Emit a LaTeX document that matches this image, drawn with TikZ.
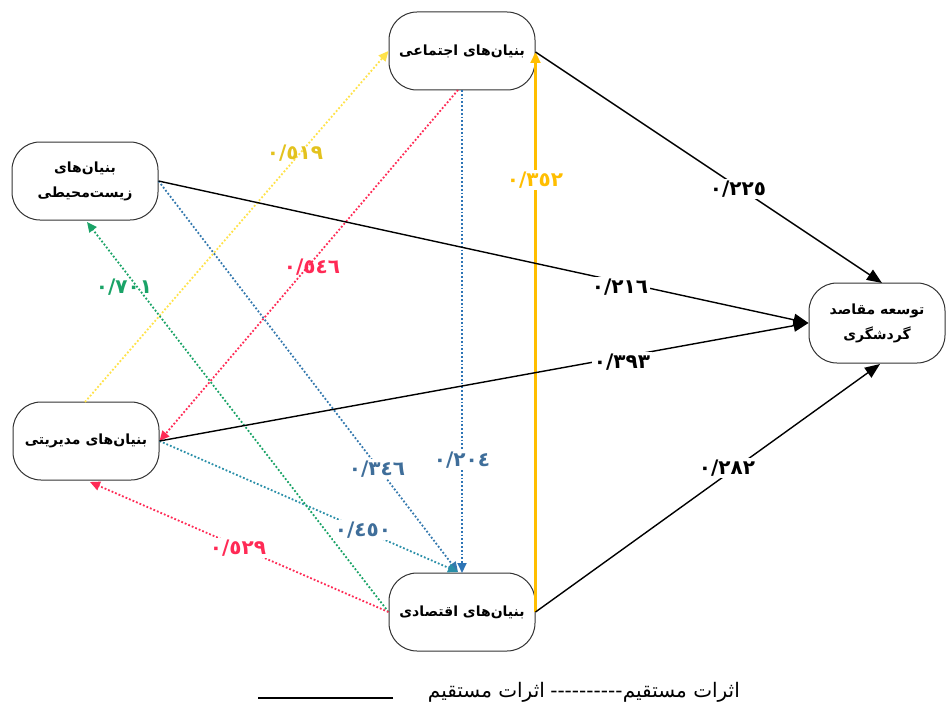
\documentclass[tikz,border=0pt]{standalone}
\usepackage{fontspec}
\usetikzlibrary{arrows.meta}
\TeXXeTstate=1
\newfontfamily\arabicfont[Script=Arabic]{DejaVu Sans}
\newcommand\fatxt[1]{\beginR #1\endR}
\definecolor{cyell}{HTML}{FFE24A}
\definecolor{cyelltxt}{HTML}{E3C21E}
\definecolor{corange}{HTML}{FFBE00}
\definecolor{cred}{HTML}{FF2A55}
\definecolor{cblue}{HTML}{2E75B6}
\definecolor{cblueb}{HTML}{3579AE}
\definecolor{cteal}{HTML}{2A8FA8}
\definecolor{cgreen}{HTML}{1AA367}
\definecolor{cbluetxt}{HTML}{3F6E9A}
\tikzset{
  box/.style={draw=black!80, line width=1pt, rectangle, rounded corners=28pt,
    minimum width=146pt, minimum height=78pt, align=center, fill=white,
    font=\arabicfont\fontsize{14}{25}\selectfont\bfseries},
  solidarr/.style={line width=1.4pt, -{Triangle[length=15pt,width=12pt]}},
  dotarr/.style={line width=1.8pt, dash pattern=on 1.8pt off 2pt, -{Triangle[length=10pt,width=9pt]}},
  lbl/.style={font=\arabicfont\fontsize{20}{22}\selectfont\bfseries, inner sep=1.5pt},
  lblw/.style={lbl, fill=white},
  legtxt/.style={font=\arabicfont\fontsize{20}{22}\selectfont, inner sep=0pt},
}
\begin{document}
\begin{tikzpicture}[x=1pt,y=-1pt]
\useasboundingbox (0,0) rectangle (949,706);
% nodes
\node[box] (soc) at (462,51) {\fatxt{بنیان^^^^200cهای اجتماعی}};
\node[box] (env) at (85,181) {\fatxt{بنیان^^^^200cهای}\\\fatxt{زیست^^^^200cمحیطی}};
\node[box] (man) at (86,441) {\fatxt{بنیان^^^^200cهای مدیریتی}};
\node[box] (eco) at (462,612) {\fatxt{بنیان^^^^200cهای اقتصادی}};
\node[box, minimum width=136pt, minimum height=80pt] (tour) at (877,323) {\fatxt{توسعه مقاصد}\\\fatxt{گردشگری}};
% anchor coordinates
\coordinate (socE) at (535.5,52);
\coordinate (socW) at (soc.west);
\coordinate (socS) at (462,90);
\coordinate (socSr) at (458,90);
\coordinate (envE) at (env.east);
\coordinate (envS) at (87,222);
\coordinate (manE) at (man.east);
\coordinate (manN) at (85,402);
\coordinate (manS) at (90,482);
\coordinate (ecoE) at (535.5,612);
\coordinate (ecoW) at (eco.west);
\coordinate (ecoN) at (462,573);
\coordinate (ecoNl) at (458,572);
\coordinate (tourN) at (882,283);
\coordinate (tourW) at (tour.west);
\coordinate (tourS) at (880,364);
% dotted arrows
\draw[dotarr, cyell] (manN) -- (socW);
\draw[dotarr, cred] (socSr) -- (manE);
\draw[dotarr, cblueb] (envE) -- (ecoNl);
\draw[dotarr, cteal] (manE) -- (ecoNl);
\draw[dotarr, cgreen] (ecoW) -- (envS);
\draw[dotarr, cred] (ecoW) -- (manS);
\draw[dotarr, cblue] (socS) -- (ecoN);
% solid arrows
\draw[draw=corange, fill=corange, line width=2.2pt, -{Triangle[length=11pt,width=10pt]}] (ecoE) -- (socE);
\draw[solidarr] (socE) -- (tourN);
\draw[solidarr] (envE) -- (tourW);
\draw[solidarr] (manE) -- (tourW);
\draw[solidarr] (ecoE) -- (tourS);
% labels
\node[lbl, text=cyelltxt] (l519) at (295,153) {٠/٥١٩};
\node[lbl, text=cred] (l546) at (312,267) {٠/٥٤٦};
\node[lbl, text=cgreen] (l701) at (124,287) {٠/٧٠١};
\node[lblw, text=corange] (l352) at (535,180) {٠/٣٥٢};
\node[lblw] (l225) at (738,189) {٠/٢٢٥};
\node[lblw] (l216) at (620,287) {٠/٢١٦};
\node[lblw] (l393) at (622,362) {٠/٣٩٣};
\node[lblw] (l282) at (727,468) {٠/٢٨٢};
\node[lblw, text=cbluetxt] (l346) at (377,469) {٠/٣٤٦};
\node[lblw, text=cbluetxt] (l204) at (462,460) {٠/٢٠٤};
\node[lblw, text=cbluetxt] (l450) at (363,530) {٠/٤٥٠};
\node[lblw, text=cred] (l529) at (238,548) {٠/٥٢٩};
% legend
\node[legtxt, anchor=base east] (legR) at (740,697) {\fatxt{اثرات مستقیم}};
\node[legtxt, anchor=base east] (legD) at (legR.base west) {----------};
\node[legtxt, anchor=base east] (legM) at ([xshift=-5pt]legD.base west) {\fatxt{اثرات مستقیم}};
\coordinate (lineA) at (393,698);
\coordinate (lineB) at (258,698);
\draw[line width=1.2pt] (lineA) -- (lineB);
\end{tikzpicture}
\end{document}
